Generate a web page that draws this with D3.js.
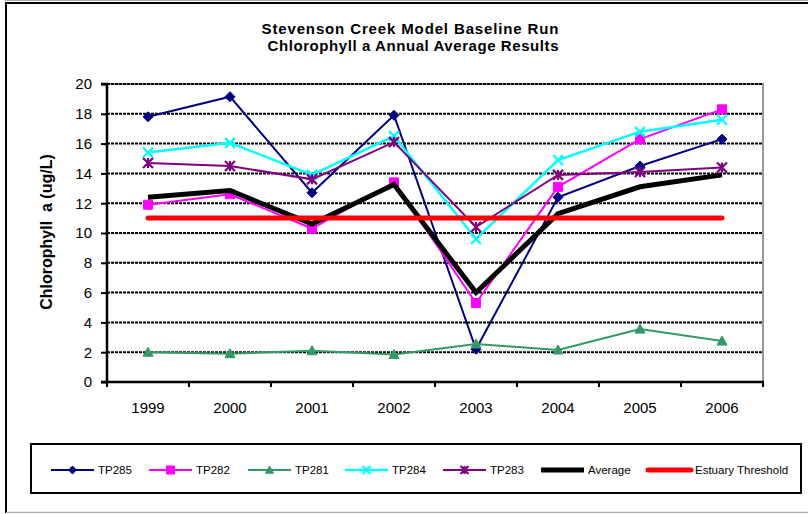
<!DOCTYPE html>
<html>
<head>
<meta charset="utf-8">
<script src="https://cdn.jsdelivr.net/npm/d3@7/dist/d3.min.js"></script>
<style>
  html, body { margin: 0; padding: 0; background: #fff; }
  svg { display: block; font-family: Arial, "Liberation Sans", sans-serif; }
</style>
</head>
<body>
<svg id="chart" width="808" height="514"></svg>
<script>
// Annual average chlorophyll a by station (ug/L)
const years = ["1999", "2000", "2001", "2002", "2003", "2004", "2005", "2006"];
const tp285 = [17.8, 19.15, 12.7, 17.9, 2.2, 12.4, 14.5, 16.3];
const tp282 = [11.9, 12.6, 10.3, 13.4, 5.3, 13.1, 16.3, 18.3];
const tp281 = [2.0, 1.9, 2.1, 1.85, 2.55, 2.15, 3.55, 2.75];
const tp284 = [15.4, 16.05, 13.9, 16.5, 9.6, 14.9, 16.8, 17.6];
const tp283 = [14.7, 14.5, 13.6, 16.1, 10.4, 13.9, 14.1, 14.4];
const average = [12.4, 12.85, 10.6, 13.25, 6.0, 11.3, 13.1, 13.9];
const threshold = [11, 11, 11, 11, 11, 11, 11, 11];
const yTicks = [0, 2, 4, 6, 8, 10, 12, 14, 16, 18, 20];

const series = [
  { name: "TP285", values: tp285, color: "#000080", width: 2, marker: "diamond" },
  { name: "TP282", values: tp282, color: "#FF00FF", width: 2, marker: "square" },
  { name: "TP281", values: tp281, color: "#339966", width: 2, marker: "triangle" },
  { name: "TP284", values: tp284, color: "#00FFFF", width: 2.5, marker: "x" },
  { name: "TP283", values: tp283, color: "#800080", width: 2, marker: "star" },
  { name: "Average", values: average, color: "#000000", width: 5, marker: null },
  { name: "Estuary Threshold", values: threshold, color: "#FF0000", width: 5, marker: null, round: true }
];

const svg = d3.select("#chart");
const plot = { left: 107, right: 763, top: 84, bottom: 382 };

const x = d3.scaleBand().domain(years).range([plot.left, plot.right]).padding(0);
const y = d3.scaleLinear().domain([0, 20]).range([plot.bottom, plot.top]);
const cx = d => x(d) + x.bandwidth() / 2;

// Outer chart frame
svg.append("line").attr("x1", 6).attr("x2", 6).attr("y1", 3).attr("y2", 513)
  .attr("stroke", "#000").attr("stroke-width", 2);
svg.append("line").attr("x1", 5).attr("x2", 808).attr("y1", 3).attr("y2", 3)
  .attr("stroke", "#000").attr("stroke-width", 2);
svg.append("line").attr("x1", 5).attr("x2", 808).attr("y1", 0.5).attr("y2", 0.5)
  .attr("stroke", "#aaa").attr("stroke-width", 1);
svg.append("line").attr("x1", 6).attr("x2", 808).attr("y1", 512.5).attr("y2", 512.5)
  .attr("stroke", "#b0b0b0").attr("stroke-width", 1.5);

// Title
const title = svg.append("g").attr("font-weight", "bold").attr("font-size", 15)
  .attr("text-anchor", "middle").attr("fill", "#000");
title.append("text").attr("x", 410).attr("y", 34)
  .attr("textLength", 297).attr("lengthAdjust", "spacing")
  .text("Stevenson Creek Model Baseline Run");
title.append("text").attr("x", 413).attr("y", 51)
  .attr("textLength", 291).attr("lengthAdjust", "spacing")
  .text("Chlorophyll a Annual Average Results");

// Plot area border (gray top and right)
svg.append("path")
  .attr("d", `M${plot.left},${plot.top}H${plot.right}V${plot.bottom}`)
  .attr("fill", "none").attr("stroke", "#999").attr("stroke-width", 2);

// Horizontal dashed gridlines
svg.append("g").selectAll("line")
  .data(yTicks.filter(t => t > 0))
  .join("line")
  .attr("x1", plot.left).attr("x2", plot.right)
  .attr("y1", d => y(d)).attr("y2", d => y(d))
  .attr("stroke", "#000").attr("stroke-width", 2)
  .attr("stroke-dasharray", "3,1");

// Y axis
const yAxis = svg.append("g").attr("transform", `translate(${plot.left},0)`)
  .call(d3.axisLeft(y).tickValues(yTicks).tickSize(6).tickPadding(9).tickFormat(d3.format("d")));
yAxis.select(".domain").attr("stroke", "#000").attr("stroke-width", 2.5)
  .attr("d", `M-6,${plot.top}H0V${plot.bottom}H-6`);
yAxis.selectAll(".tick line").attr("stroke", "#000").attr("stroke-width", 2);
yAxis.selectAll("text").attr("font-size", 15).attr("fill", "#000")
  .attr("font-family", "Arial, 'Liberation Sans', sans-serif");

// X axis with ticks between categories
const xAxis = svg.append("g").attr("transform", `translate(0,${plot.bottom})`);
xAxis.append("line").attr("x1", plot.left - 1).attr("x2", plot.right + 1)
  .attr("y1", 0).attr("y2", 0).attr("stroke", "#000").attr("stroke-width", 2.5);
xAxis.selectAll(".xt").data(years.concat(["end"])).join("line").attr("class", "xt")
  .attr("x1", (d, i) => i < years.length ? x(d) : plot.right)
  .attr("x2", (d, i) => i < years.length ? x(d) : plot.right)
  .attr("y1", 0).attr("y2", 5).attr("stroke", "#000").attr("stroke-width", 2);
xAxis.selectAll("text").data(years).join("text")
  .attr("x", d => cx(d)).attr("y", 31)
  .attr("text-anchor", "middle").attr("font-size", 15).attr("fill", "#000")
  .text(d => d);

// Y axis title
svg.append("text")
  .attr("transform", `translate(52,${(plot.top + plot.bottom) / 2 - 1}) rotate(-90)`)
  .attr("text-anchor", "middle").attr("font-weight", "bold").attr("font-size", 16)
  .attr("xml:space", "preserve").style("white-space", "pre")
  .text("Chlorophyll  a (ug/L)");

// Marker shapes
function markerPath(type, s) {
  const h = s / 2;
  switch (type) {
    case "diamond": return `M0,${-h}L${h},0L0,${h}L${-h},0Z`;
    case "square": return `M${-h},${-h}H${h}V${h}H${-h}Z`;
    case "triangle": return `M0,${-h}L${h},${h * 0.8}L${-h},${h * 0.8}Z`;
    case "x": return `M${-h},${-h}L${h},${h}M${-h},${h}L${h},${-h}`;
    case "star": return `M${-h},${-h}L${h},${h}M${-h},${h}L${h},${-h}M0,${-h}V${h}`;
  }
  return "";
}
function drawMarker(g, type, color, s) {
  const filled = type === "diamond" || type === "square" || type === "triangle";
  g.append("path").attr("d", markerPath(type, s))
    .attr("fill", filled ? color : "none")
    .attr("stroke", color)
    .attr("stroke-width", filled ? 1 : 2.2);
}

const line = d3.line().x((d, i) => cx(years[i])).y(d => y(d));

series.forEach(s => {
  const g = svg.append("g");
  g.append("path").datum(s.values).attr("d", line)
    .attr("fill", "none").attr("stroke", s.color).attr("stroke-width", s.width)
    .attr("stroke-linejoin", "miter")
    .attr("stroke-linecap", s.round ? "round" : "butt");
  if (s.marker) {
    s.values.forEach((v, i) => {
      const mg = g.append("g").attr("transform", `translate(${cx(years[i])},${y(v)})`);
      drawMarker(mg, s.marker, s.color, s.marker === "square" ? 9 : 10);
    });
  }
});

// Legend
const legend = svg.append("g");
legend.append("rect").attr("x", 31).attr("y", 444).attr("width", 770).attr("height", 49)
  .attr("fill", "#fff").attr("stroke", "#000").attr("stroke-width", 2);
const legendX = [51, 149, 248, 345, 443, 541, 648];
series.forEach((s, i) => {
  const g = legend.append("g").attr("transform", `translate(${legendX[i]},470)`);
  g.append("line").attr("x1", 0).attr("x2", 43).attr("y1", 0).attr("y2", 0)
    .attr("stroke", s.color).attr("stroke-width", s.width)
    .attr("stroke-linecap", s.round ? "round" : "butt");
  if (s.marker) {
    const mg = g.append("g").attr("transform", "translate(21.5,0)");
    drawMarker(mg, s.marker, s.color, 8);
  }
  g.append("text").attr("x", 47).attr("y", 4).attr("font-size", 11.5).attr("fill", "#000")
    .text(s.name);
});
</script>
</body>
</html>
